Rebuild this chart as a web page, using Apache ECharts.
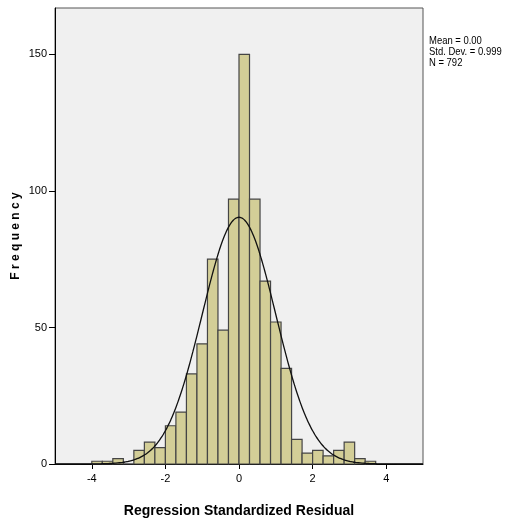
<!DOCTYPE html>
<html>
<head>
<meta charset="utf-8">
<script src="https://cdn.jsdelivr.net/npm/echarts@6/dist/echarts.min.js"></script>
<style>
  html, body { margin: 0; padding: 0; background: #ffffff; }
  #chart { width: 507px; height: 523px; }
</style>
</head>
<body>
<div id="chart"></div>
<script>
// Histogram of regression standardized residuals with a fitted normal curve.
const binStart = -4;            // lower edge of the first bin
const binWidth = 2 / 7;         // bin width
const frequencies = [
  1, 1, 2, 0, 5, 8, 6, 14, 19, 33, 44, 75, 49, 97,
  150, 97, 67, 52, 35, 9, 4, 5, 3, 5, 8, 2, 1
];
const xTicks = [-4, -2, 0, 2, 4];
const yTicks = [0, 50, 100, 150];
const stats = { mean: 0.00, sd: 0.999, n: 792 };
const statLines = ['Mean = 0.00', 'Std. Dev. = 0.999', 'N = 792'];

// [lower edge, upper edge, count] for each bin
const bins = frequencies.map((f, i) => [
  binStart + i * binWidth,
  binStart + (i + 1) * binWidth,
  f
]);

// Normal density scaled to counts per bin
const curve = [];
for (let x = -5; x <= 5.0001; x += 0.05) {
  const z = (x - stats.mean) / stats.sd;
  const y = stats.n * binWidth * Math.exp(-0.5 * z * z) / (stats.sd * Math.sqrt(2 * Math.PI));
  curve.push([x, y]);
}

const sans = '"Liberation Sans", Arial, sans-serif';

const chart = echarts.init(document.getElementById('chart'));
chart.setOption({
  animation: false,
  backgroundColor: '#ffffff',
  grid: {
    left: 55, right: 84, top: 8, bottom: 59,
    outerBoundsMode: 'none',
    containLabel: false,
    show: true,
    backgroundColor: '#F0F0F0',
    borderColor: '#555555',
    borderWidth: 1
  },
  xAxis: {
    type: 'value',
    min: -5, max: 5,
    splitLine: { show: false },
    axisLine: { show: true, onZero: false, lineStyle: { color: '#000', width: 1 } },
    axisTick: { show: true, length: 5, customValues: xTicks, lineStyle: { color: '#000' } },
    axisLabel: { customValues: xTicks, color: '#000', fontFamily: sans, fontSize: 11, margin: 9 },
    name: 'Regression Standardized Residual',
    nameLocation: 'middle',
    nameGap: 40,
    nameTextStyle: { color: '#000', fontFamily: sans, fontSize: 14, fontWeight: 'bold' }
  },
  yAxis: {
    type: 'value',
    min: 0, max: 167,
    splitLine: { show: false },
    axisLine: { show: true, onZero: false, lineStyle: { color: '#000', width: 1 } },
    axisTick: { show: true, length: 6, customValues: yTicks, lineStyle: { color: '#000' } },
    axisLabel: { customValues: yTicks, color: '#000', fontFamily: sans, fontSize: 11, margin: 8 },
    name: 'F r e q u e n c y',
    nameLocation: 'middle',
    nameRotate: 90,
    nameGap: 33,
    nameMoveOverlap: false,
    nameTextStyle: { color: '#000', fontFamily: sans, fontSize: 12, fontWeight: 'bold' }
  },
  series: [
    {
      type: 'custom',
      data: bins,
      encode: { x: [0, 1], y: 2 },
      renderItem: function (params, api) {
        const topLeft = api.coord([api.value(0), api.value(2)]);
        const bottomRight = api.coord([api.value(1), 0]);
        return {
          type: 'rect',
          shape: {
            x: topLeft[0],
            y: topLeft[1],
            width: bottomRight[0] - topLeft[0],
            height: bottomRight[1] - topLeft[1]
          },
          style: { fill: '#D3CE97', stroke: '#454545', lineWidth: 1.2 }
        };
      },
      z: 2
    },
    {
      type: 'line',
      data: curve,
      showSymbol: false,
      smooth: true,
      lineStyle: { color: '#111', width: 1.3 },
      z: 3
    }
  ],
  graphic: statLines.map((t, i) => ({
    type: 'text',
    x: 429,
    y: 35 + i * 11,
    scaleX: 0.86,
    style: { text: t, fill: '#000', font: '11px ' + sans }
  }))
});
</script>
</body>
</html>
